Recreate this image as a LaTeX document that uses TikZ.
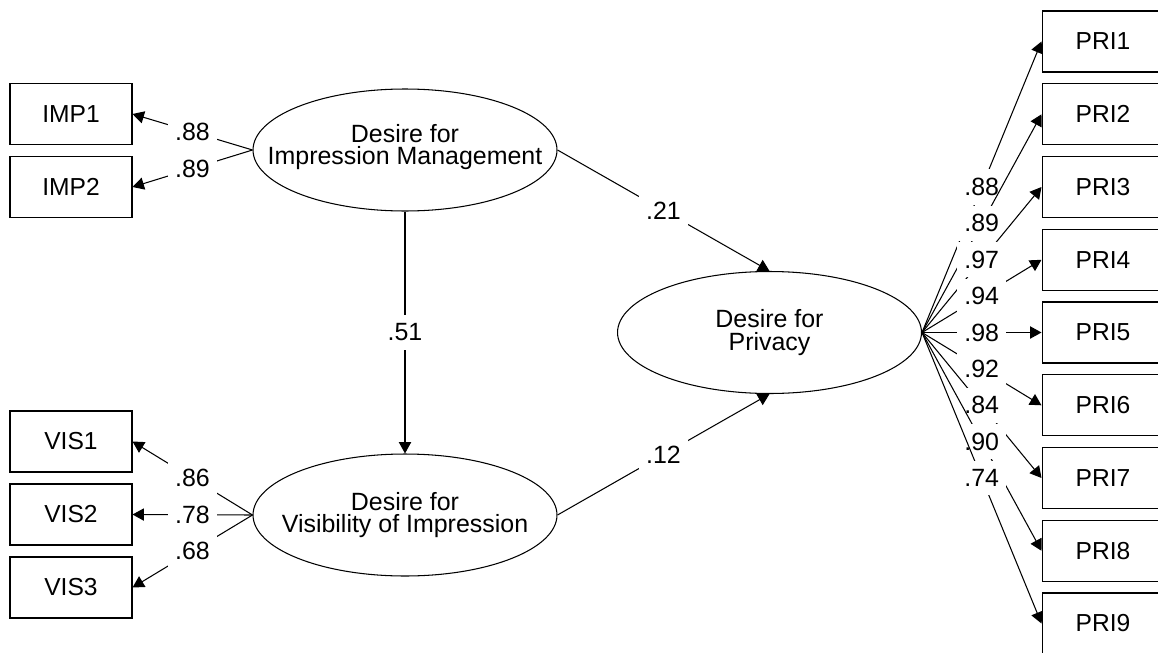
\documentclass[tikz,border=0pt]{standalone}
\usepackage{fontspec}
\setmainfont{Liberation Sans}
\usetikzlibrary{arrows.meta, shapes.geometric}

\tikzset{
  obs/.style={draw, line width=0.6pt, minimum width=2.44cm, minimum height=1.22cm, inner sep=0pt, font=\fontsize{14}{16}\selectfont},
  lat/.style={draw, ellipse, line width=0.6pt, minimum width=6.08cm, minimum height=2.44cm, inner sep=0pt},
  lattext/.style={align=center, font=\fontsize{14.2}{13}\selectfont},
  load/.style={line width=0.6pt, -{Triangle[length=6.5pt,width=7pt]}},
  coef/.style={midway, fill=white, inner xsep=4pt, inner ysep=5pt, font=\fontsize{14.2}{16}\selectfont}
}

\begin{document}
\begin{tikzpicture}[x=0.02cm, y=-0.02cm]
\useasboundingbox (0,0) rectangle (1158,652);
% latent variables
\node[lat] (imp) at (405,150) {};
\node[lattext] (imptxt) at (405,147) {Desire for\\Impression Management};
\node[lat] (vis) at (405,515) {};
\node[lattext] (vistxt) at (vis) {Desire for\\Visibility of Impression};
\node[lat] (pri) at (769.5,332.5) {};
\node[lattext] (pritxt) at (pri) {Desire for\\Privacy};
% indicators, left
\node[obs] (imp1) at (71,114) {IMP1};
\node[obs] (imp2) at (71,187) {IMP2};
\node[obs] (vis1) at (71,441.5) {VIS1};
\node[obs] (vis2) at (71,514.5) {VIS2};
\node[obs] (vis3) at (71,587.5) {VIS3};
% indicators, right
\node[obs] (pri1) at (1103,41.5) {PRI1};
\node[obs] (pri2) at (1103,114.3) {PRI2};
\node[obs] (pri3) at (1103,187) {PRI3};
\node[obs] (pri4) at (1103,259.8) {PRI4};
\node[obs] (pri5) at (1103,332.5) {PRI5};
\node[obs] (pri6) at (1103,405.3) {PRI6};
\node[obs] (pri7) at (1103,478) {PRI7};
\node[obs] (pri8) at (1103,550.8) {PRI8};
\node[obs] (pri9) at (1103,623.5) {PRI9};
% structural paths
\draw[load] (imp.east) -- node[coef] {.21} (pri.north);
\draw[load] (vis.east) -- node[coef] {.12} (pri.south);
\draw[load] (imp.south) -- node[coef] {.51} (vis.north);
% loadings
\draw[load] (imp.west) -- node[coef] {.88} (imp1.east);
\draw[load] (imp.west) -- node[coef] {.89} (imp2.east);
\draw[load] (vis.west) -- node[coef] {.86} (vis1.east);
\draw[load] (vis.west) -- node[coef] {.78} (vis2.east);
\draw[load] (vis.west) -- node[coef] {.68} (vis3.east);
\draw[load] (pri.east) -- node[coef] {.88} (pri1.west);
\draw[load] (pri.east) -- node[coef] {.89} (pri2.west);
\draw[load] (pri.east) -- node[coef] {.97} (pri3.west);
\draw[load] (pri.east) -- node[coef] {.94} (pri4.west);
\draw[load] (pri.east) -- node[coef] {.98} (pri5.west);
\draw[load] (pri.east) -- node[coef] {.92} (pri6.west);
\draw[load] (pri.east) -- node[coef] {.84} (pri7.west);
\draw[load] (pri.east) -- node[coef] {.90} (pri8.west);
\draw[load] (pri.east) -- node[coef] {.74} (pri9.west);
\end{tikzpicture}
\end{document}
